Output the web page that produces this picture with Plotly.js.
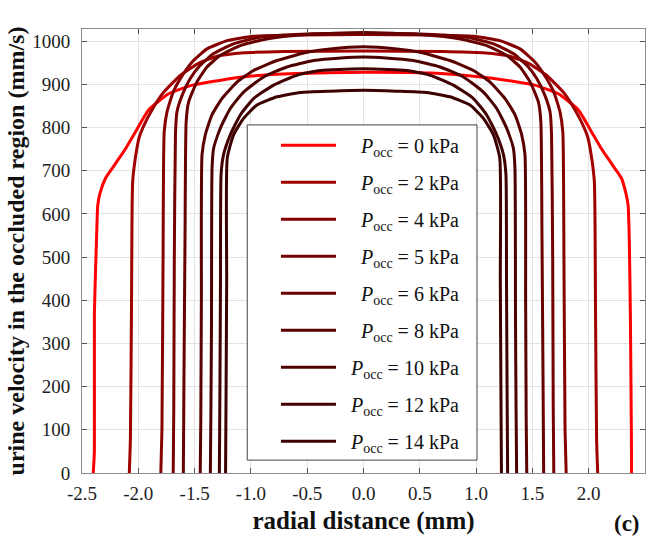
<!DOCTYPE html>
<html>
<head>
<meta charset="utf-8">
<script src="https://cdn.plot.ly/plotly-3.0.1.min.js"></script>
<style>html,body{margin:0;padding:0;background:#fff;}#chart{width:651px;height:546px;}</style>
</head>
<body>
<div id="chart"></div>
<script>
// ---- data ----
var pressures = ["0", "2", "4", "5", "6", "8", "10", "12", "14"];
var seriesColors = ["#ff0000", "#a00000", "#850000", "#740000", "#680000", "#5a0000", "#4c0000", "#430000", "#3c0000"];

var x_0kPa = [-2.40, -2.39, -2.39, -2.37, -2.36, -2.34, -2.29, -2.23, -2.17, -2.11, -2.04, -1.91, -1.73, -1.52, -1.28, -1.00, -0.60, 0.00, 0.60, 1.00, 1.28, 1.52, 1.73, 1.91, 2.04, 2.11, 2.17, 2.23, 2.29, 2.33, 2.35, 2.36, 2.37, 2.38, 2.38];
var v_0kPa = [0, 50, 370, 550, 620, 648, 683, 706, 729, 752, 783, 840, 878, 898, 909, 919, 925, 928, 926, 918, 909, 898, 878, 840, 783, 752, 729, 706, 683, 648, 620, 545, 370, 50, 0];

var x_2kPa = [-2.08, -2.07, -2.06, -2.05, -2.02, -1.99, -1.95, -1.88, -1.78, -1.62, -1.47, -1.30, -1.06, -0.70, 0.00, 0.70, 1.06, 1.30, 1.47, 1.62, 1.78, 1.88, 1.95, 1.99, 2.02, 2.05, 2.06, 2.07, 2.08];
var v_2kPa = [0, 80, 400, 675, 740, 779, 805, 840, 880, 922, 948, 965, 973, 976, 977, 976, 973, 965, 948, 922, 880, 840, 805, 779, 740, 675, 400, 80, 0];

var x_4kPa = [-1.80, -1.79, -1.78, -1.77, -1.745, -1.69, -1.60, -1.51, -1.39, -1.21, -0.98, -0.60, 0.00, 0.60, 0.98, 1.21, 1.39, 1.51, 1.60, 1.69, 1.745, 1.77, 1.78, 1.79, 1.80];
var v_4kPa = [0, 100, 500, 790, 836, 882, 924, 955, 982, 1001, 1011, 1014, 1015, 1014, 1011, 1001, 982, 955, 924, 882, 836, 790, 500, 100, 0];

var x_5kPa = [-1.69, -1.685, -1.68, -1.67, -1.657, -1.61, -1.54, -1.45, -1.33, -1.15, -0.92, -0.55, 0.00, 0.55, 0.92, 1.15, 1.33, 1.45, 1.54, 1.61, 1.657, 1.67, 1.68, 1.685, 1.69];
var v_5kPa = [0, 150, 500, 783, 836, 875, 913, 944, 971, 994, 1009, 1016, 1018, 1016, 1009, 994, 971, 944, 913, 875, 836, 783, 500, 150, 0];

var x_6kPa = [-1.60, -1.595, -1.585, -1.575, -1.553, -1.48, -1.39, -1.27, -1.09, -0.86, -0.50, 0.00, 0.50, 0.86, 1.09, 1.27, 1.39, 1.48, 1.553, 1.575, 1.585, 1.595, 1.60];
var v_6kPa = [0, 200, 550, 813, 859, 905, 940, 967, 990, 1005, 1015, 1020, 1015, 1005, 990, 967, 940, 905, 859, 813, 550, 200, 0];

var x_8kPa = [-1.45, -1.445, -1.44, -1.434, -1.405, -1.346, -1.257, -1.124, -0.976, -0.768, -0.502, -0.295, 0.00, 0.295, 0.502, 0.768, 0.976, 1.124, 1.257, 1.346, 1.405, 1.434, 1.44, 1.445, 1.45];
var v_8kPa = [0, 120, 400, 737, 783, 829, 867, 905, 932, 955, 974, 982, 987, 982, 974, 955, 932, 905, 867, 829, 783, 737, 400, 120, 0];

var x_10kPa = [-1.36, -1.355, -1.35, -1.345, -1.331, -1.272, -1.183, -1.065, -0.887, -0.68, -0.443, -0.20, 0.00, 0.20, 0.443, 0.68, 0.887, 1.065, 1.183, 1.272, 1.331, 1.345, 1.35, 1.355, 1.36];
var v_10kPa = [0, 150, 350, 706, 752, 798, 844, 882, 917, 940, 955, 961, 963, 961, 955, 940, 917, 882, 844, 798, 752, 706, 350, 150, 0];

var x_12kPa = [-1.28, -1.275, -1.27, -1.265, -1.243, -1.183, -1.094, -0.976, -0.798, -0.591, -0.384, -0.15, 0.00, 0.15, 0.384, 0.591, 0.798, 0.976, 1.094, 1.183, 1.243, 1.265, 1.27, 1.275, 1.28];
var v_12kPa = [0, 200, 450, 691, 737, 783, 829, 867, 898, 921, 932, 935, 936, 935, 932, 921, 898, 867, 829, 783, 737, 691, 450, 200, 0];

var x_14kPa = [-1.225, -1.22, -1.215, -1.21, -1.154, -1.065, -0.946, -0.768, -0.561, -0.295, 0.00, 0.295, 0.561, 0.768, 0.946, 1.065, 1.154, 1.21, 1.215, 1.22, 1.225];
var v_14kPa = [0, 210, 450, 729, 783, 821, 852, 871, 881, 884, 886, 884, 881, 871, 852, 821, 783, 729, 450, 210, 0];

var xTickVals = [-2.5, -2.0, -1.5, -1.0, -0.5, 0.0, 0.5, 1.0, 1.5, 2.0, 2.5];
var xTickText = ["-2.5", "-2.0", "-1.5", "-1.0", "-0.5", "0.0", "0.5", "1.0", "1.5", "2.0", "2.5"];
var yTickVals = [0, 100, 200, 300, 400, 500, 600, 700, 800, 900, 1000];

// ---- build traces ----
var xs = [x_0kPa, x_2kPa, x_4kPa, x_5kPa, x_6kPa, x_8kPa, x_10kPa, x_12kPa, x_14kPa];
var vs = [v_0kPa, v_2kPa, v_4kPa, v_5kPa, v_6kPa, v_8kPa, v_10kPa, v_12kPa, v_14kPa];
var serif = "Liberation Serif, Times New Roman, serif";

var traces = pressures.map(function (p, i) {
  var pad = p.length === 1 ? "&nbsp;&nbsp;&nbsp;&nbsp;" : "&nbsp;&nbsp;";
  return {
    type: "scatter",
    mode: "lines",
    x: xs[i],
    y: vs[i],
    name: pad + "<i>P</i><sub>occ</sub> = " + p + " kPa",
    legendgroup: "g" + i,
    line: { color: seriesColors[i], width: 3, shape: "spline", smoothing: 0.5 },
    hoverinfo: "skip"
  };
});

var axisCommon = {
  showline: true,
  linecolor: "#8c8c8c",
  linewidth: 1,
  mirror: "ticks",
  ticks: "inside",
  ticklen: 5,
  tickcolor: "#555",
  showgrid: true,
  gridcolor: "#e3e3e3",
  gridwidth: 1,
  zeroline: false,
  tickfont: { family: serif, size: 19, color: "#222" }
};

var layout = {
  width: 651,
  height: 546,
  margin: { l: 82, r: 6, t: 29, b: 73 },
  paper_bgcolor: "#fff",
  plot_bgcolor: "#fff",
  showlegend: true,
  xaxis: Object.assign({}, axisCommon, {
    range: [-2.5, 2.5],
    tickvals: xTickVals,
    ticktext: xTickText,
    ticklabelstandoff: 3,
    title: { text: "radial distance (mm)", font: { family: serif, size: 25, color: "#111", weight: "bold" }, standoff: 8 }
  }),
  yaxis: Object.assign({}, axisCommon, {
    range: [0, 1028],
    tickvals: yTickVals,
    ticklabelstandoff: 7,
    title: { text: "urine velocity in the occluded region (mm/s)", font: { family: serif, size: 24, color: "#111", weight: "bold" }, standoff: 0 }
  }),
  legend: {
    x: 0.293, y: 0.782, xanchor: "left", yanchor: "top",
    bgcolor: "rgba(0,0,0,0)",
    borderwidth: 0,
    traceorder: "grouped",
    tracegroupgap: 8,
    itemwidth: 55,
    indentation: 29,
    font: { family: serif, size: 20, color: "#111" }
  },
  shapes: [{
    type: "rect", xref: "paper", yref: "paper", layer: "above",
    x0: 0.2935, x1: 0.7016, y0: 0.029, y1: 0.784,
    fillcolor: "#fff", line: { color: "#444", width: 1 }
  }],
  annotations: [{
    text: "<b>(c)</b>", xref: "paper", yref: "paper", x: 0.968, y: -0.113,
    xanchor: "center", yanchor: "middle",
    showarrow: false, font: { family: serif, size: 23, color: "#111" }
  }]
};

Plotly.newPlot("chart", traces, layout, { displayModeBar: false, staticPlot: true });
</script>
</body>
</html>
